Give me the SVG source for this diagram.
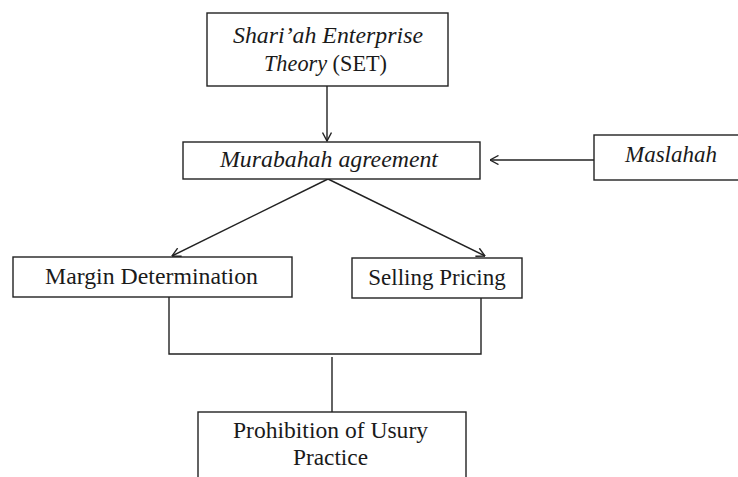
<svg xmlns="http://www.w3.org/2000/svg" width="738" height="477" viewBox="0 0 738 477">
  <style>
    .box { fill: #ffffff; stroke: #222222; stroke-width: 1.4; }
    .t { font-family: "Liberation Serif", "Times New Roman", serif; font-size: 23px; fill: #1a1a1a; }
    .i { font-style: italic; }
    .c { fill: none; stroke: #222222; stroke-width: 1.4; }
  </style>
  <defs>
    <marker id="arr" viewBox="0 0 10 10" markerWidth="10" markerHeight="10" refX="9.5" refY="5" orient="auto" markerUnits="userSpaceOnUse">
      <path d="M1,0.5 L9.5,5 L1,9.5" fill="none" stroke="#222222" stroke-width="1.4"/>
    </marker>
  </defs>
  <rect width="738" height="477" fill="#ffffff"/>

  <g id="connectors">
    <line class="c" x1="327" y1="86" x2="327" y2="141" marker-end="url(#arr)"/>
    <line class="c" x1="594" y1="160" x2="490" y2="160" marker-end="url(#arr)"/>
    <line class="c" x1="328" y1="179" x2="172" y2="256" marker-end="url(#arr)"/>
    <line class="c" x1="328" y1="179" x2="485" y2="256" marker-end="url(#arr)"/>
    <polyline class="c" points="169,297 169,354 481,354 481,298"/>
    <line class="c" x1="332" y1="357" x2="332" y2="412"/>
  </g>

  <g id="node-set">
    <rect class="box" x="207" y="13" width="241" height="73"/>
    <text class="t i" x="233" y="43" textLength="190" lengthAdjust="spacingAndGlyphs">Shari’ah Enterprise</text>
    <text class="t" x="264" y="71" textLength="123" lengthAdjust="spacingAndGlyphs"><tspan class="i">Theory</tspan> (SET)</text>
  </g>

  <g id="node-murabahah">
    <rect class="box" x="183" y="142" width="297" height="37"/>
    <text class="t i" x="220" y="167" textLength="218" lengthAdjust="spacingAndGlyphs">Murabahah agreement</text>
  </g>

  <g id="node-maslahah">
    <rect class="box" x="594" y="135" width="160" height="45"/>
    <text class="t i" x="625" y="162" textLength="92" lengthAdjust="spacingAndGlyphs">Maslahah</text>
  </g>

  <g id="node-margin">
    <rect class="box" x="13" y="257" width="279" height="40"/>
    <text class="t" x="45" y="284" textLength="213" lengthAdjust="spacingAndGlyphs">Margin Determination</text>
  </g>

  <g id="node-selling">
    <rect class="box" x="352" y="258" width="170" height="40"/>
    <text class="t" x="437" y="285" text-anchor="middle">Selling Pricing</text>
  </g>

  <g id="node-usury">
    <rect class="box" x="198" y="412" width="268" height="80"/>
    <text class="t" x="233" y="438" textLength="195" lengthAdjust="spacingAndGlyphs">Prohibition of Usury</text>
    <text class="t" x="293" y="465" textLength="75" lengthAdjust="spacingAndGlyphs">Practice</text>
  </g>
</svg>
